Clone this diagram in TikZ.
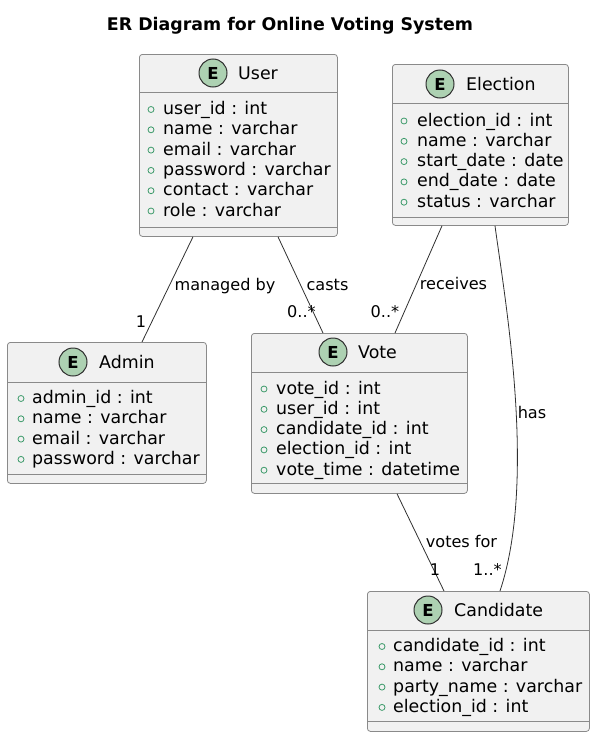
\documentclass[tikz,border=0pt]{standalone}
\usepackage{fontspec}
\setmainfont{DejaVu Sans}
\usetikzlibrary{calc}

\definecolor{boxfill}{HTML}{F1F1F1}
\definecolor{boxline}{HTML}{8A8A8A}
\definecolor{efill}{HTML}{ADD1B2}
\definecolor{pubgreen}{HTML}{3C9A6A}
\definecolor{linecol}{HTML}{303030}

\tikzset{
  entity/.style={draw=boxline, fill=boxfill, rounded corners=3pt, line width=0.8pt, anchor=north west, inner sep=0pt},
  sepline/.style={draw=boxline, line width=0.8pt},
  ecircle/.style={circle, draw=linecol, fill=efill, line width=1pt, minimum size=28pt, inner sep=0pt, font=\fontsize{16.5}{16.5}\selectfont\bfseries},
  ename/.style={anchor=west, inner sep=0pt, font=\fontsize{17.4}{20}\selectfont},
  attr/.style={anchor=base west, inner sep=0pt, font=\fontsize{17.4}{20}\selectfont},
  bullet/.style={draw=pubgreen, line width=0.8pt},
  rel/.style={draw=linecol, line width=0.8pt},
  lbl/.style={anchor=base, inner sep=0pt, font=\fontsize{16.1}{18}\selectfont},
}

\begin{document}
\begin{tikzpicture}[x=1pt,y=-1pt]
\useasboundingbox (0,0) rectangle (596,736);

% ---- title
\node[anchor=base, inner sep=0pt, font=\fontsize{17.4}{20}\selectfont\bfseries] (title) at (290,30.5) {ER Diagram for Online Voting System};

% ---- User entity
\node[entity, minimum width=198pt, minimum height=182pt] (user) at (139,54) {};
\draw[sepline] (user.west |- 0,92) -- (user.east |- 0,92);
\draw[sepline] (user.west |- 0,227) -- (user.east |- 0,227);
\node[ecircle] (userE) at (213,73) {E};
\node[ename] (userT) at (238,73) {User};
\foreach \a [count=\i] in {user\_id : int, name : varchar, email : varchar, password : varchar, contact : varchar, role : varchar}{
  \draw[bullet] (151,{89.2+\i*20.3}) circle (3pt);
  \node[attr] (user-\i) at (163,{94.2+\i*20.3}) {\a};
}

% ---- Election entity
\node[entity, minimum width=176pt, minimum height=161pt] (election) at (392,64) {};
\draw[sepline] (election.west |- 0,103) -- (election.east |- 0,103);
\draw[sepline] (election.west |- 0,217) -- (election.east |- 0,217);
\node[ecircle] (electionE) at (440,84) {E};
\node[ename] (electionT) at (466,84) {Election};
\foreach \a [count=\i] in {election\_id : int, name : varchar, start\_date : date, end\_date : date, status : varchar}{
  \draw[bullet] (404,{100.7+\i*20.3}) circle (3pt);
  \node[attr] (election-\i) at (417,{105.7+\i*20.3}) {\a};
}

% ---- Admin entity
\node[entity, minimum width=199pt, minimum height=141pt] (admin) at (7,342) {};
\draw[sepline] (admin.west |- 0,382) -- (admin.east |- 0,382);
\draw[sepline] (admin.west |- 0,474) -- (admin.east |- 0,474);
\node[ecircle] (adminE) at (73,362) {E};
\node[ename] (adminT) at (99,362) {Admin};
\foreach \a [count=\i] in {admin\_id : int, name : varchar, email : varchar, password : varchar}{
  \draw[bullet] (21,{378.2+\i*20.3}) circle (3pt);
  \node[attr] (admin-\i) at (32,{383.2+\i*20.3}) {\a};
}

% ---- Vote entity
\node[entity, minimum width=216pt, minimum height=160pt] (vote) at (251,333) {};
\draw[sepline] (vote.west |- 0,372) -- (vote.east |- 0,372);
\draw[sepline] (vote.west |- 0,483) -- (vote.east |- 0,483);
\node[ecircle] (voteE) at (333,352) {E};
\node[ename] (voteT) at (358,352) {Vote};
\foreach \a [count=\i] in {vote\_id : int, user\_id : int, candidate\_id : int, election\_id : int, vote\_time : datetime}{
  \draw[bullet] (264,{368.7+\i*20.3}) circle (3pt);
  \node[attr] (vote-\i) at (276,{373.7+\i*20.3}) {\a};
}

% ---- Candidate entity
\node[entity, minimum width=222pt, minimum height=140pt] (candidate) at (367,591) {};
\draw[sepline] (candidate.west |- 0,630) -- (candidate.east |- 0,630);
\draw[sepline] (candidate.west |- 0,721) -- (candidate.east |- 0,721);
\node[ecircle] (candidateE) at (428,610) {E};
\node[ename] (candidateT) at (454,610) {Candidate};
\foreach \a [count=\i] in {candidate\_id : int, name : varchar, party\_name : varchar, election\_id : int}{
  \draw[bullet] (382,{626.2+\i*20.3}) circle (3pt);
  \node[attr] (candidate-\i) at (393,{631.2+\i*20.3}) {\a};
}

% ---- relations
\draw[rel] ($(user.south west)+(54,0)$) -- ($(admin.north west)+(135,0)$);
\draw[rel] ($(user.south west)+(139,0)$) -- ($(vote.north west)+(72,0)$);
\draw[rel] ($(election.south west)+(50,0)$) -- ($(vote.north west)+(144,0)$);
\draw[rel] ($(election.south west)+(103,0)$) .. controls (505,300) and (537,480) .. ($(candidate.north west)+(133,0)$);
\draw[rel] ($(vote.south west)+(146,0)$) -- ($(candidate.north west)+(77,0)$);

% ---- relation labels
\node[lbl] (lblManaged) at (225,290) {managed by};
\node[lbl] (mulAdmin) at (141,327) {1};
\node[lbl] (lblCasts) at (327.5,290) {casts};
\node[lbl] (mulCasts) at (301.5,317) {0..*};
\node[lbl] (lblReceives) at (453.5,289) {receives};
\node[lbl] (mulReceives) at (385,317) {0..*};
\node[lbl] (lblHas) at (532,418) {has};
\node[lbl] (mulHas) at (487.5,575) {1..*};
\node[lbl] (lblVotesFor) at (461.5,547) {votes for};
\node[lbl] (mulVotesFor) at (435,575) {1};
\end{tikzpicture}
\end{document}
